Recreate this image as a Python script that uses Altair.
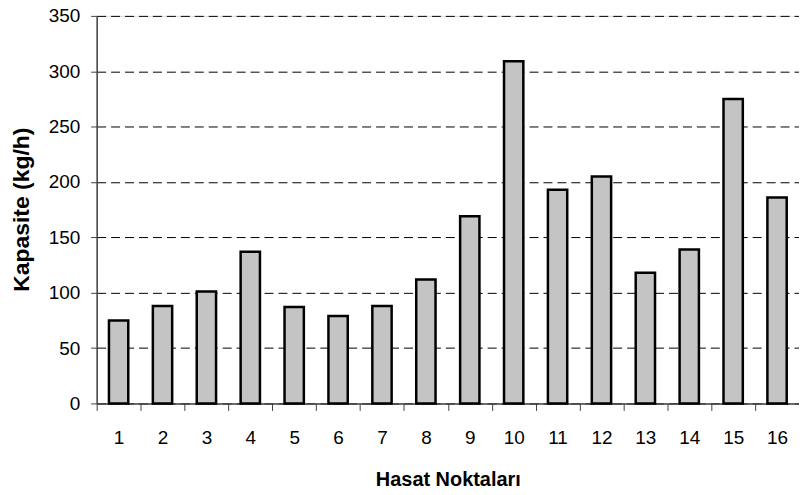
import altair as alt
import pandas as pd

categories = [str(i) for i in range(1, 17)]
values = [75, 88, 101, 137, 87, 79, 88, 112, 169, 309, 193, 205, 118, 139, 275, 186]
y_ticks = [0, 50, 100, 150, 200, 250, 300, 350]

df = pd.DataFrame({"nokta": categories, "kapasite": values})

FONT = "Liberation Sans"

bars = alt.Chart(df).mark_bar(
    width=alt.RelativeBandSize(0.44),
    fill="#c4c4c4",
    stroke="#000000",
    strokeWidth=2.5,
).encode(
    x=alt.X(
        "nokta:N",
        sort=categories,
        scale=alt.Scale(paddingInner=0, paddingOuter=0),
        axis=alt.Axis(
            title="Hasat Noktaları",
            labelAngle=0,
            tickBand="extent",
            tickSize=7,
            tickColor="#404040",
            domainColor="#404040",
            domainWidth=1.5,
            labelPadding=18,
            labelFontSize=19,
            labelFont=FONT,
            labelColor="#000000",
            titleFont=FONT,
            titleFontSize=20,
            titleFontWeight="bold",
            titleColor="#000000",
            titleBaseline="alphabetic",
            titleY=82,
            grid=False,
        ),
    ),
    y=alt.Y(
        "kapasite:Q",
        scale=alt.Scale(domain=[0, 350], nice=False),
        axis=alt.Axis(
            title="Kapasite (kg/h)",
            values=y_ticks,
            tickSize=6,
            tickColor="#404040",
            domainColor="#404040",
            domainWidth=1.5,
            labelPadding=11,
            labelFontSize=19,
            labelFont=FONT,
            labelColor="#000000",
            titleFont=FONT,
            titleFontSize=23,
            titleFontWeight="bold",
            titleColor="#000000",
            titleBaseline="middle",
            titleX=-75,
            titleY=194,
            grid=True,
            gridColor="#000000",
            gridDash=[9, 5],
            gridWidth=1,
        ),
    ),
)

chart = bars.properties(
    width=705,
    height=389,
    padding={"left": 89, "top": 7, "right": 0, "bottom": 90},
    autosize="none",
).configure_view(
    stroke="#808080",
    strokeWidth=1.5,
).configure(background="#ffffff")

chart.save("out.html", embed_options={"renderer": "svg", "actions": False})
